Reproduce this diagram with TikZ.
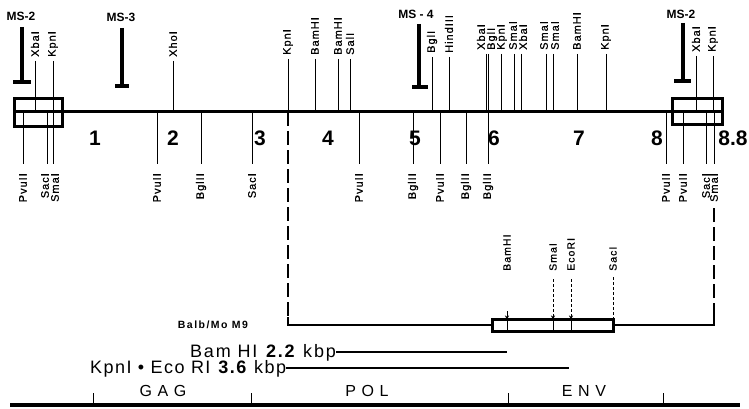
\documentclass[tikz,border=0pt]{standalone}
\usepackage{fontspec}
\setmainfont{Liberation Sans}
\usetikzlibrary{arrows.meta}
\begin{document}
\begin{tikzpicture}[x=1pt,y=-1pt,
  site/.style={line width=1pt},
  lbl/.style={font=\fontsize{11}{11}\selectfont\addfontfeature{LetterSpace=9,FakeBold=0.6}, inner sep=0pt, rotate=90},
  toplbl/.style={lbl, anchor=west},
  botlbl/.style={lbl, anchor=east},
  smalllbl/.style={font=\fontsize{10.5}{10.5}\selectfont\addfontfeature{LetterSpace=10,FakeBold=0.6}, inner sep=0pt, rotate=90, anchor=west},
  msbar/.style={line width=3.8pt},
  msfoot/.style={line width=3.2pt},
  mslbl/.style={font=\bfseries\fontsize{12}{12}\selectfont, inner sep=0pt},
  num/.style={font=\bfseries\fontsize{21}{21}\selectfont, inner sep=0pt},
  thickline/.style={line width=3pt},
  longdash/.style={line width=1.4pt, dash pattern=on 14pt off 5pt},
  shortdash/.style={line width=0.6pt, dash pattern=on 3pt off 2pt},
  bamlbl/.style={font=\fontsize{18}{18}\selectfont\addfontfeature{LetterSpace=10}, inner sep=0pt, anchor=base west},
  kpnlbl/.style={font=\fontsize{18}{18}\selectfont\addfontfeature{LetterSpace=8}, inner sep=0pt, anchor=base west},
  genelbl/.style={font=\fontsize{16}{16}\selectfont\addfontfeature{LetterSpace=35}, inner sep=0pt},
  tip/.style={-{Stealth[length=4pt,width=4pt]}}
]
\useasboundingbox (0,0) rectangle (749,409);

% main map line and end boxes
\coordinate (mapL) at (14,112);
\coordinate (mapR) at (722,112);
\draw[thickline] (mapL) -- (mapR);
\draw[thickline] (14,99) rectangle (62,127);
\draw[thickline] (672,99) rectangle (722,125);

% top sites
\foreach \x/\lx/\ly/\t [count=\i] in {
  35/35/57/XbaI, 53/53/57/KpnI, 173/173/57/XhoI,
  288/288/55/KpnI, 315/315/55/BamHI, 338/338/55/BamHI, 350/350/55/SalI,
  432/432/53/BglI, 449/449/53/HindIII,
  486/481/50/XbaI, 488/492/50/BglI, 501/502/50/KpnI, 514/513/50/SmaI, 521/523/50/XbaI,
  546/544/50/SmaI, 553/555/50/SmaI, 577/577/50/BamHI, 606/606/50/KpnI,
  696/696/52/XbaI, 713/713/52/KpnI}{
  \node[toplbl] (tl\i) at (\lx,\ly) {\t};
  \draw[site] (\x,\ly+4) -- (\x,112);
}

% bottom sites
\foreach \x/\lx/\t [count=\i] in {
  23/23/PvuII, 47/45/SacI, 53/55/SmaI, 157/157/PvuII, 201/201/BglII,
  252/252/SacI, 359/359/PvuII, 413/413/BglII, 440/440/PvuII, 466/466/BglII,
  488/488/BglII, 666/666/PvuII, 683/683/PvuII, 706/706/SacI, 714/714/SmaI}{
  \node[botlbl] (bl\i) at (\lx,173) {\t};
  \draw[site] (\x,112) -- (\x,164);
}

% MS markers
\node[mslbl] (ms2a) at (21,16) {MS-2};
\draw[msbar] (22,27) -- (22,82);
\draw[msfoot] (13,82) -- (31,82);
\node[mslbl] (ms3) at (121,17) {MS-3};
\draw[msbar] (122,28) -- (122,86);
\draw[msfoot] (115,86) -- (129,86);
\node[mslbl] (ms4) at (416,14) {MS - 4};
\draw[msbar] (419,24) -- (419,87);
\draw[msfoot] (412,87) -- (428,87);
\node[mslbl] (ms2b) at (681,14) {MS-2};
\draw[msbar] (683,23) -- (683,81);
\draw[msfoot] (674,81) -- (691,81);

% scale numbers
\foreach \x/\n [count=\i] in {95/1, 173/2, 260/3, 328/4, 415/5, 494/6, 579/7, 657/8, 733/8.8}{
  \node[num] (n\i) at (\x,138) {\n};
}

% Balb/Mo M9 clone
\node[font=\bfseries\fontsize{10.5}{10.5}\selectfont\addfontfeature{LetterSpace=14}, inner sep=0pt] (balb) at (213,325) {Balb/Mo M9};
\coordinate (kdash) at (288,112);
\coordinate (kcorner) at (288,325);
\coordinate (boxL) at (492,325);
\coordinate (boxR) at (613,325);
\coordinate (scorner) at (714,325);
\coordinate (sdash) at (714,205);
\draw[longdash] (kdash) -- (288,317);
\draw[line width=2.2pt] (288,317) -- (kcorner) -- (boxL);
\draw[thickline] (492,319) rectangle (613,331);
\draw[line width=2.2pt] (boxR) -- (scorner) -- (714,317);
\draw[longdash] (714,317) -- (sdash);

\node[smalllbl] (cb) at (507,271) {BamHI};
\node[smalllbl] (cs) at (553,271) {SmaI};
\node[smalllbl] (ce) at (571,271) {EcoRI};
\node[smalllbl] (cc) at (613,271) {SacI};
\draw[tip, line width=0.6pt] (507,311) -- (507,319.5);
\draw[shortdash, tip] (cs.west) ++(0,8) -- (553,319.5);
\draw[shortdash, tip] (ce.west) ++(0,8) -- (571,319.5);
\draw[shortdash] (cc.west) ++(0,6) -- (613,318);
\foreach \x in {507,553,571}{ \draw[line width=0.5pt] (\x,320) -- (\x,330); }

% fragments
\node[bamlbl] (bam) at (190,357) {Bam HI \textbf{2.2} kbp};
\coordinate (bamend) at (507,351);
\draw[line width=1.8pt] (bam.east) -- (bam.east -| bamend);
\node[kpnlbl] (kpn) at (90,373) {KpnI • Eco RI \textbf{3.6} kbp};
\coordinate (kpnend) at (569,366);
\draw[line width=1.8pt] (kpn.east) -- (kpn.east -| kpnend);

% gene bar
\coordinate (gL) at (10,405);
\coordinate (gR) at (740,405);
\draw[line width=3.2pt] (gL) -- (gR);
\foreach \x in {93,251,508,663}{ \draw[line width=1pt] (\x,393) -- (\x,405); }
\node[genelbl] (gag) at (163,391) {GAG};
\node[genelbl] (pol) at (367,391) {POL};
\node[genelbl] (env) at (584,391) {ENV};
\end{tikzpicture}
\end{document}
